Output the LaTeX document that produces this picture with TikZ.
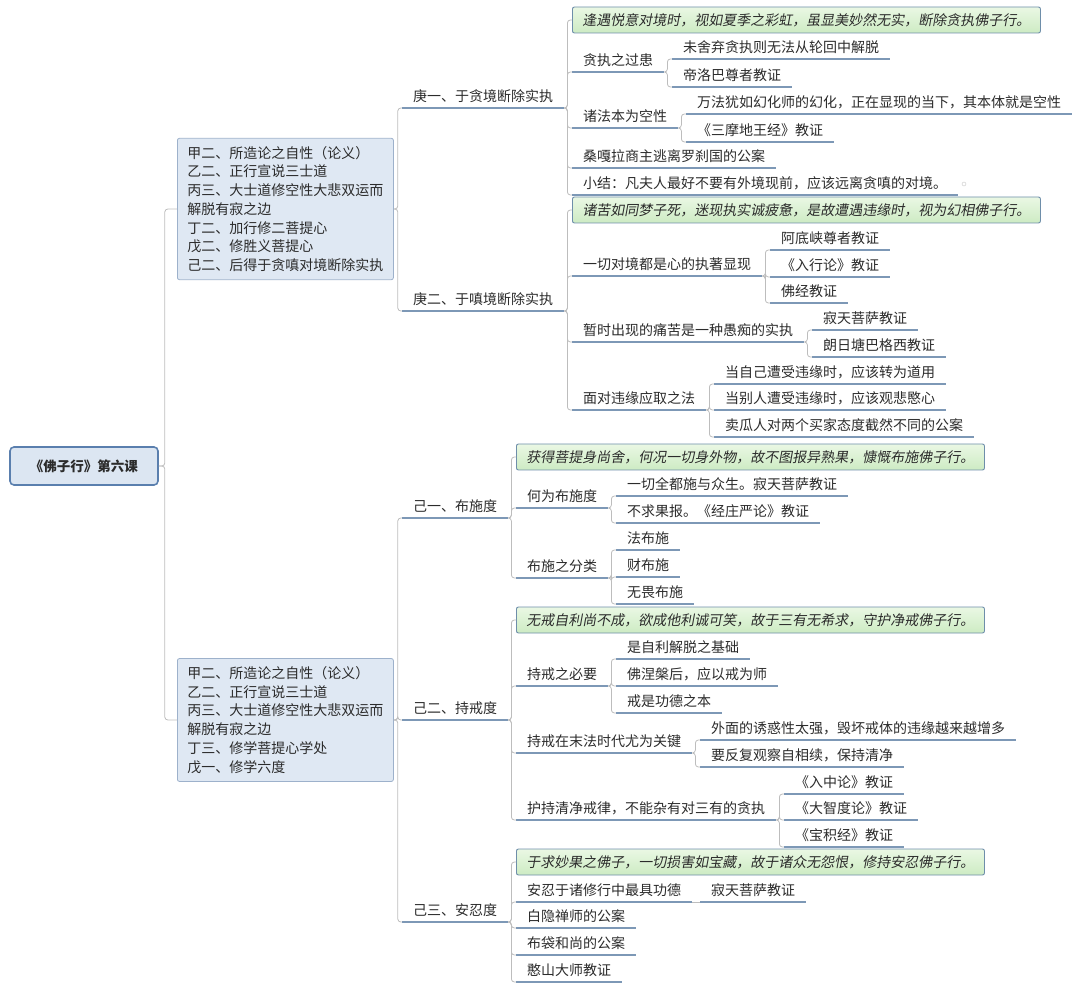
\documentclass[tikz,border=0pt]{standalone}
\usepackage{fontspec}
\setmainfont{Noto Sans CJK SC}
\newfontfamily\slantfont[FakeSlant=0.18]{Noto Sans CJK SC}

\definecolor{rootfill}{HTML}{DCE6F2}
\definecolor{rootline}{HTML}{5A7FAE}
\definecolor{boxfill}{HTML}{DFE8F3}
\definecolor{boxline}{HTML}{9DB1CB}
\definecolor{ulinec}{HTML}{7D98B6}
\definecolor{connline}{HTML}{BDBDBD}
\definecolor{greentop}{HTML}{EAF8E4}
\definecolor{greenbot}{HTML}{CDEBC3}
\definecolor{greenline}{HTML}{6E8EAA}
\definecolor{txt}{HTML}{2B2B2B}

\tikzset{
  ul/.style={draw=ulinec, line width=1.2pt},
  leaf/.style={anchor=south west, inner xsep=11pt, inner ysep=4pt,
    text height=12pt, text depth=2pt, text=txt,
    font=\fontsize{14}{16}\selectfont,
    append after command={(\tikzlastnode.south west) edge[ul] (\tikzlastnode.south east)}},
  root/.style={draw=rootline, line width=1.6pt, fill=rootfill, rounded corners=4pt,
    minimum width=148pt, minimum height=38pt, text=txt,
    font=\fontsize{13.5}{16}\selectfont\bfseries},
  topic/.style={draw=boxline, line width=0.8pt, fill=boxfill, rounded corners=2pt,
    anchor=west, align=left, inner xsep=10pt, inner ysep=8pt, text=txt,
    font=\fontsize{14}{18.7}\selectfont},
  verse/.style={draw=greenline, line width=0.9pt, top color=greentop, bottom color=greenbot,
    rounded corners=2pt, anchor=west, inner xsep=10pt, minimum height=26pt, text=txt,
    font=\slantfont\fontsize{14}{16}\selectfont},
  conn/.style={draw=connline, line width=0.8pt, rounded corners=3pt},
  dotmark/.style={circle, draw=gray!45, inner sep=0pt, minimum size=4pt}
}

\begin{document}
\begin{tikzpicture}[x=1pt,y=-1pt]
  \useasboundingbox (0,0) rectangle (1080,992);

  \node[root] (root) at (84,466) {《佛子行》第六课};

  \node[topic] (topA) at (177,209) {甲二、所造论之自性（论义）\\乙二、正行宣说三士道\\丙三、大士道修空性大悲双运而\\解脱有寂之边\\丁二、加行修二菩提心\\戊二、修胜义菩提心\\己二、后得于贪嗔对境断除实执};
  \node[topic] (topB) at (177,720) {甲二、所造论之自性（论义）\\乙二、正行宣说三士道\\丙三、大士道修空性大悲双运而\\解脱有寂之边\\丁三、修学菩提心学处\\戊一、修学六度};

  % geng
  \node[leaf] (gengA) at (402,108) {庚一、于贪境断除实执};
  \node[leaf] (gengB) at (402,311) {庚二、于嗔境断除实执};

  \node[verse] (verseA) at (572,20) {逢遇悦意对境时，视如夏季之彩虹，虽显美妙然无实，断除贪执佛子行。};
  \node[leaf] (tanzhi) at (572,72) {贪执之过患};
  \node[leaf] (tzA) at (672,59) {未舍弃贪执则无法从轮回中解脱};
  \node[leaf] (tzB) at (672,87) {帝洛巴尊者教证};
  \node[leaf] (zhufa) at (572,128) {诸法本为空性};
  \node[leaf] (zfA) at (686,114) {万法犹如幻化师的幻化，正在显现的当下，其本体就是空性};
  \node[leaf] (zfB) at (686,142) {《三摩地王经》教证};
  \node[leaf] (sangga) at (572,168) {桑嘎拉商主逃离罗刹国的公案};
  \node[leaf] (xiaojie) at (572,195) {小结：凡夫人最好不要有外境现前，应该远离贪嗔的对境。};
  \node[dotmark] (xjmark) at (964,184) {};

  \node[verse] (verseB) at (572,210) {诸苦如同梦子死，迷现执实诚疲惫，是故遭遇违缘时，视为幻相佛子行。};
  \node[leaf] (yiqie) at (572,276) {一切对境都是心的执著显现};
  \node[leaf] (yqA) at (770,250) {阿底峡尊者教证};
  \node[leaf] (yqB) at (770,277) {《入行论》教证};
  \node[leaf] (yqC) at (770,303) {佛经教证};
  \node[leaf] (zanshi) at (572,342) {暂时出现的痛苦是一种愚痴的实执};
  \node[leaf] (zsA) at (812,330) {寂天菩萨教证};
  \node[leaf] (zsB) at (812,357) {朗日塘巴格西教证};
  \node[leaf] (miandui) at (572,410) {面对违缘应取之法};
  \node[leaf] (mdA) at (714,384) {当自己遭受违缘时，应该转为道用};
  \node[leaf] (mdB) at (714,410) {当别人遭受违缘时，应该观悲愍心};
  \node[leaf] (mdC) at (714,437) {卖瓜人对两个买家态度截然不同的公案};

  % ji
  \node[leaf] (jiA) at (402,518) {己一、布施度};
  \node[leaf] (jiB) at (402,720) {己二、持戒度};
  \node[leaf] (jiC) at (402,922) {己三、安忍度};

  \node[verse] (verseC) at (516,457) {获得菩提身尚舍，何况一切身外物，故不图报异熟果，慷慨布施佛子行。};
  \node[leaf] (hewei) at (516,508) {何为布施度};
  \node[leaf] (hwA) at (616,496) {一切全都施与众生。寂天菩萨教证};
  \node[leaf] (hwB) at (616,523) {不求果报。《经庄严论》教证};
  \node[leaf] (fenlei) at (516,578) {布施之分类};
  \node[leaf] (flA) at (616,550) {法布施};
  \node[leaf] (flB) at (616,577) {财布施};
  \node[leaf] (flC) at (616,604) {无畏布施};

  \node[verse] (verseD) at (516,620) {无戒自利尚不成，欲成他利诚可笑，故于三有无希求，守护净戒佛子行。};
  \node[leaf] (biyao) at (516,686) {持戒之必要};
  \node[leaf] (byA) at (616,659) {是自利解脱之基础};
  \node[leaf] (byB) at (616,686) {佛涅槃后，应以戒为师};
  \node[leaf] (byC) at (616,713) {戒是功德之本};
  \node[leaf] (mofa) at (516,753) {持戒在末法时代尤为关键};
  \node[leaf] (mfA) at (700,740) {外面的诱惑性太强，毁坏戒体的违缘越来越增多};
  \node[leaf] (mfB) at (700,767) {要反复观察自相续，保持清净};
  \node[leaf] (huchi) at (516,820) {护持清净戒律，不能杂有对三有的贪执};
  \node[leaf] (hcA) at (784,794) {《入中论》教证};
  \node[leaf] (hcB) at (784,820) {《大智度论》教证};
  \node[leaf] (hcC) at (784,847) {《宝积经》教证};

  \node[verse] (verseE) at (516,862) {于求妙果之佛子，一切损害如宝藏，故于诸众无怨恨，修持安忍佛子行。};
  \node[leaf] (anren) at (516,902) {安忍于诸修行中最具功德};
  \node[leaf] (arA) at (700,902) {寂天菩萨教证};
  \node[leaf] (baiyin) at (516,928) {白隐禅师的公案};
  \node[leaf] (budai) at (516,955) {布袋和尚的公案};
  \node[leaf] (hanshan) at (516,982) {憨山大师教证};

  % connectors
  \foreach \c in {topA,topB}
    \draw[conn] (root.east) -- ++(6,0) |- (\c.west);
  \foreach \p/\c in {topA/gengA, topA/gengB, topB/jiA, topB/jiB, topB/jiC}
    \draw[conn] (\p.east) -- ++(4,0) |- (\c.south west);
  \foreach \p/\c in {gengA/verseA, gengB/verseB, jiA/verseC, jiB/verseD, jiC/verseE}
    \draw[conn] (\p.south east) -- ++(3,0) |- (\c.west);
  \foreach \p/\c in {gengA/tanzhi, gengA/zhufa, gengA/sangga, gengA/xiaojie,
      tanzhi/tzA, tanzhi/tzB, zhufa/zfA, zhufa/zfB,
      gengB/yiqie, gengB/zanshi, gengB/miandui,
      yiqie/yqA, yiqie/yqB, yiqie/yqC, zanshi/zsA, zanshi/zsB,
      miandui/mdA, miandui/mdB, miandui/mdC,
      jiA/hewei, jiA/fenlei, hewei/hwA, hewei/hwB, fenlei/flA, fenlei/flB, fenlei/flC,
      jiB/biyao, jiB/mofa, jiB/huchi, biyao/byA, biyao/byB, biyao/byC,
      mofa/mfA, mofa/mfB, huchi/hcA, huchi/hcB, huchi/hcC,
      jiC/anren, jiC/baiyin, jiC/budai, jiC/hanshan}
    \draw[conn] (\p.south east) -- ++(3,0) |- (\c.south west);
  \draw[conn] (anren.south east) -- (arA.south west);
\end{tikzpicture}
\end{document}
